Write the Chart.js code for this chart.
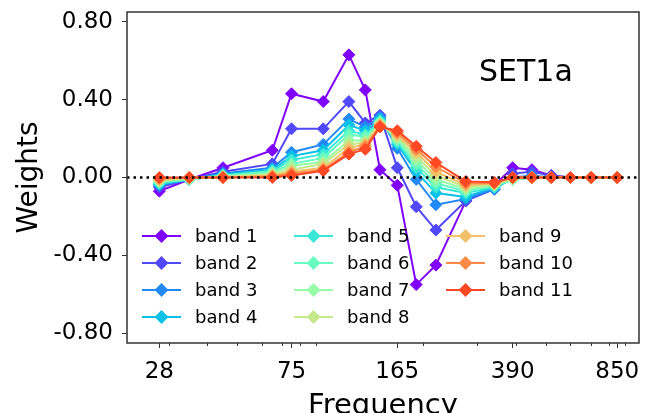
<!DOCTYPE html>
<html>
<head>
<meta charset="utf-8">
<script src="https://cdn.jsdelivr.net/npm/chart.js@4.4.1/dist/chart.umd.min.js"></script>
<style>
  html, body { margin: 0; padding: 0; background: #fff; }
  canvas { display: block; }
</style>
</head>
<body>
<canvas id="myChart" width="651" height="413"></canvas>
<script>
// frequencies (x) and weights per band
const freqs = [28, 35, 45, 65, 75, 95, 115, 130, 145, 165, 190, 220, 275, 340, 390, 450, 520, 600, 700, 850];

const band1  = [-0.07, -0.01, 0.05, 0.14, 0.43, 0.39, 0.63, 0.45, 0.04, -0.04, -0.55, -0.45, -0.12, -0.04, 0.05, 0.04, 0.01, 0.00, 0.00, 0.00];
const band2  = [-0.05, -0.01, 0.03, 0.07, 0.25, 0.25, 0.39, 0.28, 0.32, 0.05, -0.15, -0.27, -0.12, -0.06, 0.02, 0.03, 0.01, 0.00, 0.00, 0.00];
const band3  = [-0.04, -0.01, 0.02, 0.05, 0.13, 0.17, 0.30, 0.26, 0.31, 0.15, -0.01, -0.14, -0.11, -0.06, 0.00, 0.01, 0.00, 0.00, 0.00, 0.00];
const band4  = [-0.035, -0.01, 0.015, 0.04, 0.11, 0.14, 0.27, 0.24, 0.30, 0.17, 0.03, -0.08, -0.10, -0.05, -0.01, 0.00, 0.00, 0.00, 0.00, 0.00];
const band5  = [-0.03, -0.01, 0.01, 0.035, 0.09, 0.12, 0.24, 0.22, 0.29, 0.18, 0.05, -0.05, -0.08, -0.05, -0.01, 0.00, 0.00, 0.00, 0.00, 0.00];
const band6  = [-0.025, -0.01, 0.01, 0.03, 0.07, 0.10, 0.22, 0.21, 0.285, 0.19, 0.07, -0.03, -0.07, -0.04, -0.01, 0.00, 0.00, 0.00, 0.00, 0.00];
const band7  = [-0.02, -0.005, 0.005, 0.02, 0.06, 0.08, 0.19, 0.19, 0.28, 0.20, 0.09, -0.01, -0.06, -0.04, -0.01, 0.00, 0.00, 0.00, 0.00, 0.00];
const band8  = [-0.015, -0.005, 0.005, 0.015, 0.04, 0.07, 0.17, 0.18, 0.275, 0.21, 0.11, 0.01, -0.05, -0.035, -0.005, 0.00, 0.00, 0.00, 0.00, 0.00];
const band9  = [-0.01, 0.00, 0.00, 0.01, 0.03, 0.05, 0.15, 0.17, 0.27, 0.22, 0.13, 0.03, -0.04, -0.03, 0.00, 0.00, 0.00, 0.00, 0.00, 0.00];
const band10 = [-0.005, 0.00, 0.00, 0.005, 0.02, 0.04, 0.13, 0.16, 0.265, 0.23, 0.145, 0.055, -0.03, -0.03, 0.00, 0.00, 0.00, 0.00, 0.00, 0.00];
const band11 = [0.00, 0.00, 0.00, 0.00, 0.01, 0.035, 0.12, 0.145, 0.26, 0.24, 0.16, 0.077, -0.02, -0.025, 0.00, 0.00, 0.00, 0.00, 0.00, 0.00];

const bands = [band1, band2, band3, band4, band5, band6, band7, band8, band9, band10, band11];
const bandLabels = ["band 1", "band 2", "band 3", "band 4", "band 5", "band 6", "band 7", "band 8", "band 9", "band 10", "band 11"];

const xTicks = [28, 75, 165, 390, 850];
const xMinorTicks = [30, 40, 50, 60, 70, 80, 90, 200, 300, 400, 500, 600, 700, 800, 900];
const yTicks = [-0.8, -0.4, 0, 0.4, 0.8];

const FONT = "'DejaVu Sans', sans-serif";

// matplotlib "rainbow" colormap
function rainbow(t) {
    const r = Math.min(1, Math.abs(2 * t - 0.5));
    const g = Math.sin(Math.PI * t);
    const b = Math.cos(Math.PI * t / 2);
    return `rgb(${Math.round(r * 255)}, ${Math.round(g * 255)}, ${Math.round(b * 255)})`;
}

const colors = bands.map((b, i) => rainbow(i / 11));

function diamond(ctx, x, y, r, color) {
    ctx.beginPath();
    ctx.moveTo(x - r, y);
    ctx.lineTo(x, y - r);
    ctx.lineTo(x + r, y);
    ctx.lineTo(x, y + r);
    ctx.closePath();
    ctx.fillStyle = color;
    ctx.fill();
}

const extras = {
    id: 'extras',
    afterDatasetsDraw(chart) {
        const ctx = chart.ctx;
        const area = chart.chartArea;
        const x = chart.scales.x;
        const y = chart.scales.y;

        // dotted zero line
        const y0 = y.getPixelForValue(0);
        ctx.save();
        ctx.strokeStyle = '#000';
        ctx.lineWidth = 2.5;
        ctx.setLineDash([2.5, 4]);
        ctx.beginPath();
        ctx.moveTo(area.left, y0);
        ctx.lineTo(area.right, y0);
        ctx.stroke();
        ctx.restore();

        // frame
        ctx.save();
        ctx.strokeStyle = '#333';
        ctx.lineWidth = 1.5;
        ctx.strokeRect(area.left, area.top, area.right - area.left, area.bottom - area.top);

        // minor ticks on x
        ctx.lineWidth = 1;
        ctx.beginPath();
        xMinorTicks.forEach(v => {
            const px = Math.round(x.getPixelForValue(v)) + 0.5;
            ctx.moveTo(px, area.bottom);
            ctx.lineTo(px, area.bottom + 3);
        });
        ctx.stroke();
        ctx.restore();
    },
    afterDraw(chart) {
        const ctx = chart.ctx;
        ctx.save();
        // SET1a label
        ctx.fillStyle = '#000';
        ctx.font = `30px ${FONT}`;
        ctx.textBaseline = 'alphabetic';
        ctx.textAlign = 'left';
        ctx.fillText('SET1a', 479, 81);

        // legend, 3 columns filled top to bottom
        const colX = [142, 294, 446];
        ctx.font = `18px ${FONT}`;
        ctx.textBaseline = 'middle';
        bands.forEach((b, i) => {
            const col = Math.floor(i / 4);
            const row = i % 4;
            const lx = colX[col];
            const ly = 236 + row * 27;
            ctx.strokeStyle = colors[i];
            ctx.lineWidth = 2;
            ctx.beginPath();
            ctx.moveTo(lx, ly);
            ctx.lineTo(lx + 39, ly);
            ctx.stroke();
            diamond(ctx, lx + 19.5, ly, 7, colors[i]);
            ctx.fillStyle = '#000';
            ctx.fillText(bandLabels[i], lx + 53, ly + 1);
        });
        ctx.restore();
    }
};

const ctx = document.getElementById('myChart');

new Chart(ctx, {
    type: 'line',
    data: {
        datasets: bands.map((b, i) => ({
            label: bandLabels[i],
            data: freqs.map((f, j) => ({ x: f, y: b[j] })),
            borderColor: colors[i],
            backgroundColor: colors[i],
            borderWidth: 2,
            pointStyle: 'rectRot',
            pointRadius: 6,
            pointBorderWidth: 1,
            pointBorderColor: colors[i],
            pointBackgroundColor: colors[i],
            tension: 0,
            order: 10 - i
        }))
    },
    options: {
        responsive: false,
        animation: false,
        layout: { padding: { top: 12, right: 12, left: 0, bottom: 0 } },
        plugins: {
            legend: { display: false },
            tooltip: { enabled: false }
        },
        scales: {
            x: {
                type: 'logarithmic',
                min: 22,
                max: 1000,
                afterBuildTicks: scale => { scale.ticks = xTicks.map(v => ({ value: v })); },
                afterFit: scale => {
                    scale.height = 70;
                    scale.paddingLeft = 0;
                    scale.paddingRight = 0;
                },
                ticks: {
                    color: '#000',
                    font: { family: FONT, size: 23 },
                    padding: 10,
                    maxRotation: 0,
                    autoSkip: false,
                    callback: v => String(v)
                },
                grid: {
                    drawOnChartArea: false,
                    drawTicks: true,
                    tickLength: 5,
                    color: '#333',
                    tickWidth: 1
                },
                border: { display: false },
                title: {
                    display: true,
                    text: 'Frequency',
                    color: '#000',
                    font: { family: FONT, size: 29, lineHeight: 1 },
                    padding: { top: 0, bottom: -8 }
                }
            },
            y: {
                min: -0.85,
                max: 0.85,
                afterBuildTicks: scale => { scale.ticks = yTicks.map(v => ({ value: v })); },
                afterFit: scale => {
                    scale.width = 127;
                    scale.paddingTop = 0;
                    scale.paddingBottom = 0;
                },
                ticks: {
                    color: '#000',
                    font: { family: FONT, size: 23 },
                    padding: 9,
                    callback: v => v.toFixed(2)
                },
                grid: {
                    drawOnChartArea: false,
                    drawTicks: true,
                    tickLength: 5,
                    color: '#333',
                    tickWidth: 1
                },
                border: { display: false },
                title: {
                    display: true,
                    text: 'Weights',
                    color: '#000',
                    font: { family: FONT, size: 28, lineHeight: 1 },
                    padding: { top: 16, bottom: 0 }
                }
            }
        }
    },
    plugins: [extras]
});
</script>
</body>
</html>
